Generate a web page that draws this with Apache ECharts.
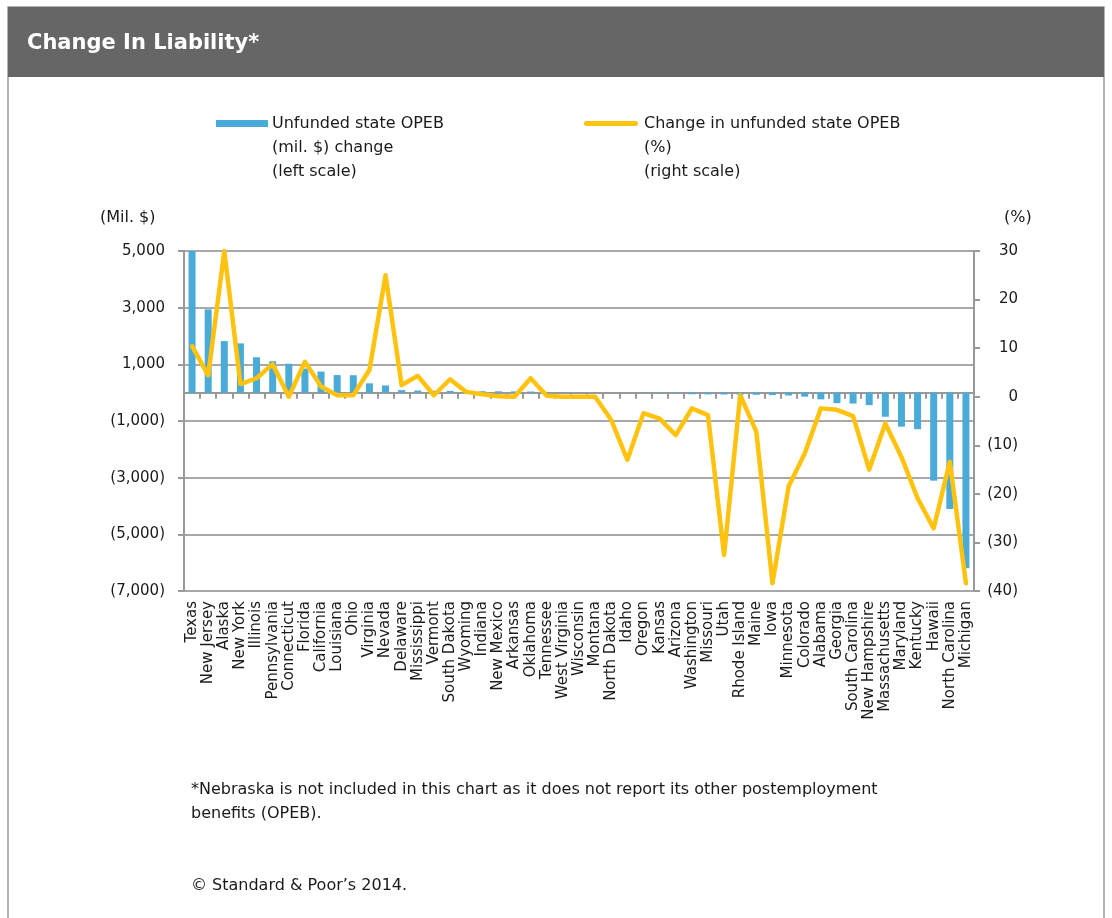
<!DOCTYPE html>
<html>
<head>
<meta charset="utf-8">
<script src="https://cdn.jsdelivr.net/npm/echarts@6/dist/echarts.min.js"></script>
<style>
  html, body { margin: 0; padding: 0; background: #ffffff; }
  #chart { width: 1112px; height: 918px; }
</style>
</head>
<body>
<div id="chart"></div>
<script>
// States ranked by the change in unfunded OPEB liability (Nebraska excluded)
const states = [
  'Texas', 'New Jersey', 'Alaska', 'New York', 'Illinois', 'Pennsylvania', 'Connecticut',
  'Florida', 'California', 'Louisiana', 'Ohio', 'Virginia', 'Nevada', 'Delaware',
  'Mississippi', 'Vermont', 'South Dakota', 'Wyoming', 'Indiana', 'New Mexico', 'Arkansas',
  'Oklahoma', 'Tennessee', 'West Virginia', 'Wisconsin', 'Montana', 'North Dakota', 'Idaho',
  'Oregon', 'Kansas', 'Arizona', 'Washington', 'Missouri', 'Utah', 'Rhode Island', 'Maine',
  'Iowa', 'Minnesota', 'Colorado', 'Alabama', 'Georgia', 'South Carolina', 'New Hampshire',
  'Massachusetts', 'Maryland', 'Kentucky', 'Hawaii', 'North Carolina', 'Michigan'
];

// Unfunded state OPEB change, mil. $ (left scale)
const opebChangeMil = [
  5000, 2940, 1820, 1740, 1250, 1110, 1020,
  850, 745, 620, 615, 330, 255, 90,
  75, 65, 60, 55, 50, 48, 45,
  40, 15, 8, 3, 0, -3, -6,
  -10, -14, -20, -55, -60, -65, -70, -75,
  -85, -100, -140, -235, -370, -385, -440,
  -850, -1200, -1290, -3105, -4105, -6200
];

// Change in unfunded state OPEB, % (right scale)
const opebChangePct = [
  10.4, 4.4, 30, 2.6, 3.8, 6.7, 0,
  7.2, 2.1, 0.3, 0.3, 5.5, 25, 2.4,
  4.3, 0.3, 3.6, 1.0, 0.5, 0.1, 0,
  3.8, 0.2, 0, 0, 0, -4.8, -13.0,
  -3.4, -4.5, -7.9, -2.4, -3.8, -32.6, 0.3, -7.2,
  -38.4, -18.5, -11.7, -2.4, -2.7, -4.0, -15.0,
  -5.5, -12.4, -20.9, -27.1, -13.4, -38.4
];

// Axis ranges
const leftAxisRange = { min: -7000, max: 5000, step: 2000 };
const rightAxisRange = { min: -40, max: 30, step: 10 };

// Text
const titleText = 'Change In Liability*';
const barLegendText = 'Unfunded state OPEB\n(mil. $) change\n(left scale)';
const lineLegendText = 'Change in unfunded state OPEB\n(%)\n(right scale)';
const leftUnit = '(Mil. $)';
const rightUnit = '(%)';
const footnoteText = '*Nebraska is not included in this chart as it does not report its other postemployment\nbenefits (OPEB).';
const creditText = '\u00A9 Standard & Poor\u2019s 2014.';

const BAR_COLOR = '#4aaad8';
const LINE_COLOR = '#ffc20e';
const GRID_COLOR = '#a8a8a8';
const TEXT_COLOR = '#1a1a1a';
const FONT = '"DejaVu Sans", "Liberation Sans", Arial, sans-serif';

// Accounting-style number: negatives in parentheses
function accounting(v) {
  const s = Math.abs(v).toLocaleString('en-US');
  return v < 0 ? '(' + s + ')' : s;
}

const chart = echarts.init(document.getElementById('chart'), null, { renderer: 'canvas' });

chart.setOption({
  backgroundColor: '#ffffff',
  animation: false,
  grid: {
    left: 184, right: 138, top: 251, bottom: 327,
    outerBoundsMode: 'none'
  },
  xAxis: [
    {
      // zero line with category dividers
      type: 'category',
      data: states,
      axisLine: { onZero: true, onZeroAxisIndex: 0, lineStyle: { color: '#999999', width: 2 } },
      axisTick: { show: true, interval: 0, length: 6, inside: false, lineStyle: { color: '#999999', width: 2 } },
      axisLabel: { show: false },
      splitLine: { show: false }
    },
    {
      // state names under the plot
      type: 'category',
      data: states,
      position: 'bottom',
      axisLine: { show: false, onZero: false },
      axisTick: { show: false },
      splitLine: { show: false },
      axisLabel: {
        interval: 0, rotate: 90, margin: 10,
        fontFamily: FONT, fontSize: 15, color: TEXT_COLOR
      }
    }
  ],
  yAxis: [
    {
      type: 'value',
      position: 'left',
      min: leftAxisRange.min, max: leftAxisRange.max, interval: leftAxisRange.step,
      axisLine: { show: true, lineStyle: { color: '#999999', width: 2 } },
      axisTick: { show: true, length: 6, lineStyle: { color: '#999999', width: 2 } },
      splitLine: { show: true, lineStyle: { color: GRID_COLOR, width: 2 } },
      axisLabel: {
        formatter: accounting, margin: 19,
        fontFamily: FONT, fontSize: 15, color: TEXT_COLOR
      }
    },
    {
      type: 'value',
      position: 'right',
      min: rightAxisRange.min, max: rightAxisRange.max, interval: rightAxisRange.step,
      axisLine: { show: true, lineStyle: { color: '#999999', width: 2 } },
      axisTick: { show: true, length: 6, lineStyle: { color: '#999999', width: 2 } },
      splitLine: { show: false },
      axisLabel: {
        formatter: accounting, margin: 44, align: 'right',
        fontFamily: FONT, fontSize: 15, color: TEXT_COLOR
      }
    }
  ],
  series: [
    {
      name: 'Unfunded state OPEB (mil. $) change',
      type: 'bar',
      xAxisIndex: 0,
      yAxisIndex: 0,
      data: opebChangeMil,
      barWidth: 7,
      itemStyle: { color: BAR_COLOR },
      clip: true,
      z: 2
    },
    {
      name: 'Change in unfunded state OPEB (%)',
      type: 'line',
      xAxisIndex: 0,
      yAxisIndex: 1,
      data: opebChangePct,
      showSymbol: false,
      symbol: 'none',
      lineStyle: { color: LINE_COLOR, width: 4.5, join: 'round', cap: 'round' },
      itemStyle: { color: LINE_COLOR },
      z: 3
    }
  ],
  graphic: [
    // page frame and header band
    {
      type: 'rect', silent: true, z: -10,
      shape: { x: 8, y: 7, width: 1096, height: 940 },
      style: { fill: '#ffffff', stroke: '#9a9a9a', lineWidth: 1.5 }
    },
    {
      type: 'rect', silent: true, z: -9,
      shape: { x: 8, y: 7, width: 1096, height: 70 },
      style: { fill: '#666666' }
    },
    {
      type: 'text', silent: true,
      x: 27, y: 44,
      style: {
        text: titleText, fill: '#ffffff',
        font: 'bold 21px ' + FONT, verticalAlign: 'middle'
      }
    },
    // legend
    {
      type: 'rect', silent: true,
      shape: { x: 216, y: 120, width: 52, height: 7 },
      style: { fill: BAR_COLOR }
    },
    {
      type: 'text', silent: true,
      x: 272, y: 112,
      style: {
        text: barLegendText, fill: TEXT_COLOR,
        font: '16px ' + FONT, lineHeight: 24, verticalAlign: 'top'
      }
    },
    {
      type: 'rect', silent: true,
      shape: { x: 584, y: 121, width: 54, height: 5, r: 2.5 },
      style: { fill: LINE_COLOR }
    },
    {
      type: 'text', silent: true,
      x: 644, y: 112,
      style: {
        text: lineLegendText, fill: TEXT_COLOR,
        font: '16px ' + FONT, lineHeight: 24, verticalAlign: 'top'
      }
    },
    // axis units
    {
      type: 'text', silent: true,
      x: 100, y: 218,
      style: { text: leftUnit, fill: TEXT_COLOR, font: '16px ' + FONT, verticalAlign: 'middle' }
    },
    {
      type: 'text', silent: true,
      x: 1004, y: 218,
      style: { text: rightUnit, fill: TEXT_COLOR, font: '16px ' + FONT, verticalAlign: 'middle' }
    },
    // notes
    {
      type: 'text', silent: true,
      x: 191, y: 778,
      style: {
        text: footnoteText, fill: TEXT_COLOR,
        font: '16px ' + FONT, lineHeight: 24, verticalAlign: 'top'
      }
    },
    {
      type: 'text', silent: true,
      x: 191, y: 886,
      style: { text: creditText, fill: TEXT_COLOR, font: '16px ' + FONT, verticalAlign: 'middle' }
    }
  ]
});
</script>
</body>
</html>
